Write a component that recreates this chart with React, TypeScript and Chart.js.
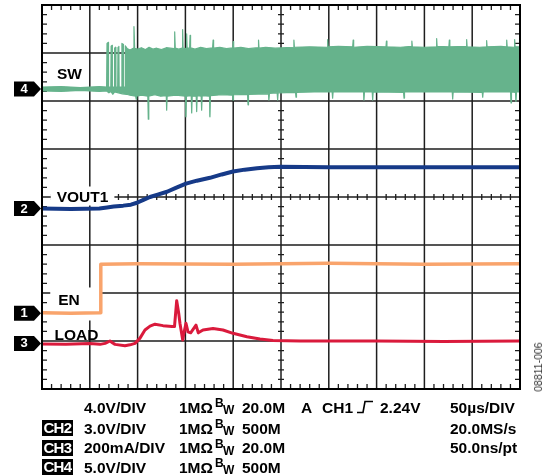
import React, { useEffect, useRef } from 'react';
import { Chart, registerables } from 'chart.js';

Chart.register(...registerables);

// Horizontal axis: time in µs (50 µs/DIV, 10 divisions).
// Vertical axis: screen divisions (8 divisions, centre line = 0).
const TIME_MIN = 0;
const TIME_MAX = 500;
const TIME_PER_DIV = 50;
const DIV_MIN = -4;
const DIV_MAX = 4;

type Pt = [number, number];

// CH4 – SW node: upper and lower envelope of the switching band
const swUpper: Pt[] = [
  [0, 2.29], [20, 2.3], [40, 2.28], [60, 2.3], [67.6, 2.29],
  [68.0, 3.2], [69.2, 3.22], [69.6, 2.29],
  [72.0, 2.29], [72.3, 3.14], [73.3, 3.16], [73.6, 2.29],
  [75.6, 2.29], [75.9, 3.1], [77.0, 3.12], [77.3, 2.29],
  [79.2, 2.29], [79.5, 3.12], [80.4, 3.14], [80.7, 2.29],
  [83.3, 2.29], [83.6, 3.2], [84.9, 3.18], [85.2, 2.29],
  [86.9, 2.29], [87.2, 3.15], [88.0, 3.12],
  [88.5, 3.1], [92, 3.06], [95.5, 3.1], [96.2, 3.55], [96.9, 3.1], [100, 3.08], [104, 3.11],
  [108, 3.07], [112, 3.12], [116, 3.08], [120, 3.1], [125, 3.07], [130, 3.11],
  [138.2, 3.09], [138.8, 3.44], [139.4, 3.1], [143, 3.08], [146.6, 3.1], [147.1, 3.49], [147.6, 3.1],
  [150.8, 3.09], [151.3, 3.4], [151.8, 3.11], [154.4, 3.1], [154.9, 3.37], [155.4, 3.11],
  [160, 3.08], [166, 3.12], [172, 3.09], [178.5, 3.11], [179.0, 3.27], [179.5, 3.1],
  [186, 3.12], [193, 3.09], [199.5, 3.11], [200.0, 3.24], [200.5, 3.1], [208, 3.12],
  [216, 3.09], [226, 3.11], [226.5, 3.27], [227, 3.1], [234, 3.12], [244, 3.1],
  [263, 3.12], [263.5, 3.27], [264, 3.12], [280, 3.13], [298.3, 3.12], [298.8, 3.28], [299.3, 3.13],
  [310, 3.14], [325, 3.13], [325.5, 3.27], [326, 3.12], [340, 3.14], [359.8, 3.13], [360.3, 3.25],
  [360.8, 3.13], [375, 3.12], [386.4, 3.14], [386.9, 3.25], [387.4, 3.13], [400, 3.12],
  [412.3, 3.13], [412.8, 3.3], [413.3, 3.14], [425.6, 3.13], [426.1, 3.27], [426.6, 3.13],
  [443.7, 3.14], [444.2, 3.28], [444.7, 3.13], [458, 3.12], [464.6, 3.13], [465.1, 3.26],
  [465.6, 3.13], [480, 3.14], [485.6, 3.13], [486.1, 3.27], [486.6, 3.13], [493.9, 3.12],
  [494.4, 3.28], [494.9, 3.13], [500, 3.13],
];

const swLower: Pt[] = [
  [0, 2.21], [20, 2.2], [40, 2.22], [60, 2.2], [67.6, 2.21], [70, 2.17], [72, 2.2], [74, 2.14],
  [76, 2.19], [80, 2.17], [84, 2.15], [88.5, 2.14], [92, 2.12], [98.0, 2.1], [98.5, 2.04],
  [99.0, 2.1], [104, 2.12], [110.7, 2.1], [111.2, 1.62], [111.7, 2.1], [118, 2.13], [124, 2.1],
  [130.0, 2.11], [130.4, 1.81], [130.9, 2.1], [140, 2.12], [150.1, 2.1], [150.6, 1.67], [151.1, 2.1],
  [156.1, 2.11], [156.6, 1.75], [157.1, 2.1], [161.3, 2.1], [161.8, 1.78], [162.3, 2.11],
  [166.5, 2.1], [167.0, 1.81], [167.5, 2.11], [175.2, 2.1], [175.7, 1.67], [176.2, 2.11],
  [188, 2.13], [199.3, 2.12], [199.8, 2.02], [200.3, 2.13], [215, 2.14], [215.5, 1.92], [216, 2.14],
  [236.9, 2.15], [237.4, 2.02], [237.9, 2.16], [246.0, 2.17], [246.5, 2.02], [247.0, 2.17],
  [265.2, 2.18], [265.7, 2.08], [266.2, 2.18], [285, 2.19], [303.5, 2.19], [304.0, 2.06],
  [304.5, 2.19], [336.3, 2.19], [336.8, 2.02], [337.3, 2.19], [345.4, 2.19], [345.9, 2.02],
  [346.4, 2.19], [378.2, 2.18], [378.7, 2.06], [379.2, 2.19], [429.1, 2.19], [429.6, 2.04],
  [430.1, 2.19], [460.5, 2.18], [461.0, 2.08], [461.5, 2.19], [490.1, 2.19], [490.6, 1.96],
  [491.1, 2.19], [495.3, 2.18], [495.8, 1.99], [496.3, 2.19], [500, 2.19],
];

// CH2 – VOUT1
const vout1: Pt[] = [
  [0, -0.24], [30, -0.25], [60, -0.24], [68, -0.22], [75, -0.2], [85, -0.18], [93, -0.16],
  [99.4, -0.12], [106, -0.06], [113, 0.0], [121, 0.05], [130.8, 0.11], [140, 0.19], [150.6, 0.28],
  [162, 0.34], [175.7, 0.4], [188, 0.47], [199.8, 0.53], [212, 0.57], [224.9, 0.6], [237, 0.62],
  [249, 0.63], [300, 0.62], [400, 0.62], [500, 0.62],
];

// CH1 – EN
const en: Pt[] = [
  [0, -2.41], [30, -2.42], [60.9, -2.41], [61.5, -1.4], [100, -1.39], [200, -1.4],
  [300, -1.38], [400, -1.4], [500, -1.39],
];

// CH3 – LOAD current
const load: Pt[] = [
  [0, -3.06], [25, -3.07], [50, -3.05], [60.7, -3.07], [66, -3.05], [71.1, -3.0], [74, -3.04],
  [76.4, -3.07], [86.8, -3.1], [92, -3.08], [97.3, -3.05], [102.5, -2.94], [107.7, -2.77],
  [113, -2.69], [118.2, -2.65], [126.6, -2.68], [136, -2.7], [138.6, -2.7], [140.9, -2.16],
  [143, -2.42], [144.3, -2.63], [147.2, -2.98], [148.5, -2.83], [150.6, -2.63], [152.7, -2.81],
  [155.5, -2.83], [161.1, -2.67], [163.5, -2.83], [168.4, -2.77], [178.9, -2.74], [189.3, -2.77],
  [199.8, -2.84], [214.4, -2.91], [228, -2.96], [241.6, -2.99], [270, -3.0], [350, -3.0],
  [420, -3.01], [500, -3.0],
];

const channelMarkers = [
  { ch: '4', level: 2.25 },
  { ch: '2', level: -0.24 },
  { ch: '1', level: -2.42 },
  { ch: '3', level: -3.05 },
];

const traceLabels = [
  { text: 'SW', t: 15.7, d: 2.448, bg: null as null | number[] },
  { text: 'VOUT1', t: 15.4, d: -0.094, bg: [6, 6, 15, 4] },
  { text: 'EN', t: 17.0, d: -2.26, bg: [8, 21, 18, 15] },
  { text: 'LOAD', t: 13.1, d: -2.975, bg: null as null | number[] },
];

const chRows = [
  { box: '', scale: '4.0V/DIV', bw: '20.0M' },
  { box: 'CH2', scale: '3.0V/DIV', bw: '500M' },
  { box: 'CH3', scale: '200mA/DIV', bw: '20.0M' },
  { box: 'CH4', scale: '5.0V/DIV', bw: '500M' },
];
const timebase = ['50µs/DIV', '20.0MS/s', '50.0ns/pt'];
const trigger = { mode: 'A', source: 'CH1', level: '2.24V' };
const figureId = '08811-006';

const COLORS = {
  sw: '#66B38C',
  vout1: '#163A88',
  en: '#F9A46C',
  load: '#DA1A3C',
};

const FONT = '"Liberation Sans", Arial, Helvetica, sans-serif';

const toXY = (arr: Pt[]) => arr.map(([x, y]) => ({ x, y }));

const scopePlugin = {
  id: 'scopeScreen',
  beforeDatasetsDraw(chart: any) {
    const { ctx, chartArea: a, scales } = chart;
    const xs = scales.x;
    const ys = scales.y;
    ctx.save();
    // major grid
    ctx.strokeStyle = '#1e1e1e';
    ctx.lineWidth = 1.5;
    ctx.beginPath();
    for (let k = 1; k < (TIME_MAX - TIME_MIN) / TIME_PER_DIV; k++) {
      const px = xs.getPixelForValue(TIME_MIN + k * TIME_PER_DIV);
      ctx.moveTo(px, a.top);
      ctx.lineTo(px, a.bottom);
    }
    for (let d = DIV_MIN + 1; d < DIV_MAX; d++) {
      const py = ys.getPixelForValue(d);
      ctx.moveTo(a.left, py);
      ctx.lineTo(a.right, py);
    }
    ctx.stroke();
    // minor ticks
    const xc = xs.getPixelForValue((TIME_MIN + TIME_MAX) / 2);
    const yc = ys.getPixelForValue(0);
    ctx.lineWidth = 1.3;
    ctx.beginPath();
    const nx = ((TIME_MAX - TIME_MIN) / TIME_PER_DIV) * 5;
    for (let k = 1; k < nx; k++) {
      if (k % 5 === 0) continue;
      const px = xs.getPixelForValue(TIME_MIN + (k * TIME_PER_DIV) / 5);
      ctx.moveTo(px, a.top);
      ctx.lineTo(px, a.top + 5);
      ctx.moveTo(px, a.bottom);
      ctx.lineTo(px, a.bottom - 5);
      ctx.moveTo(px, yc - 3);
      ctx.lineTo(px, yc + 3);
    }
    const ny = (DIV_MAX - DIV_MIN) * 5;
    for (let k = 1; k < ny; k++) {
      if (k % 5 === 0) continue;
      const py = ys.getPixelForValue(DIV_MIN + k / 5);
      ctx.moveTo(a.left, py);
      ctx.lineTo(a.left + 5, py);
      ctx.moveTo(a.right, py);
      ctx.lineTo(a.right - 5, py);
      ctx.moveTo(xc - 3, py);
      ctx.lineTo(xc + 3, py);
    }
    ctx.stroke();
    // trace labels
    ctx.font = `bold 15.5px ${FONT}`;
    ctx.textBaseline = 'alphabetic';
    ctx.textAlign = 'left';
    traceLabels.forEach((l) => {
      const px = xs.getPixelForValue(l.t);
      const py = ys.getPixelForValue(l.d);
      const w = ctx.measureText(l.text).width;
      if (l.bg) {
        ctx.fillStyle = '#fff';
        ctx.fillRect(px - l.bg[0], py - l.bg[2], w + l.bg[0] + l.bg[1], l.bg[2] + l.bg[3]);
      }
      ctx.fillStyle = '#000';
      ctx.fillText(l.text, px, py);
    });
    ctx.restore();
  },
  afterDatasetsDraw(chart: any) {
    const { ctx, chartArea: a, scales } = chart;
    const ys = scales.y;
    ctx.save();
    ctx.strokeStyle = '#000';
    ctx.lineWidth = 2;
    ctx.strokeRect(a.left, a.top, a.right - a.left, a.bottom - a.top);
    // channel reference markers
    channelMarkers.forEach((m) => {
      const cy = ys.getPixelForValue(m.level);
      const L = a.left - 28;
      ctx.fillStyle = '#000';
      ctx.beginPath();
      ctx.moveTo(L, cy - 7.5);
      ctx.lineTo(a.left - 8, cy - 7.5);
      ctx.lineTo(a.left - 1, cy);
      ctx.lineTo(a.left - 8, cy + 7.5);
      ctx.lineTo(L, cy + 7.5);
      ctx.closePath();
      ctx.fill();
      ctx.fillStyle = '#fff';
      ctx.font = `bold 13px ${FONT}`;
      ctx.textAlign = 'center';
      ctx.textBaseline = 'middle';
      ctx.fillText(m.ch, L + 10, cy + 0.5);
    });
    ctx.restore();
  },
};

const txt: React.CSSProperties = {
  position: 'absolute',
  fontFamily: FONT,
  fontWeight: 700,
  fontSize: 15.5,
  lineHeight: '17px',
  color: '#000',
  whiteSpace: 'pre',
};

const ROW_CENTERS = [407, 428, 447.5, 467];

export default function App() {
  const canvasRef = useRef<HTMLCanvasElement | null>(null);

  useEffect(() => {
    if (!canvasRef.current) return;
    const common = { pointRadius: 0, tension: 0, borderJoinStyle: 'round', borderCapStyle: 'butt' };
    const chart = new Chart(canvasRef.current, {
      type: 'line',
      data: {
        datasets: [
          { ...common, label: 'LOAD', data: toXY(load), borderColor: COLORS.load, borderWidth: 3, fill: false },
          { ...common, label: 'EN', data: toXY(en), borderColor: COLORS.en, borderWidth: 3.5, fill: false },
          { ...common, label: 'VOUT1', data: toXY(vout1), borderColor: COLORS.vout1, borderWidth: 4, fill: false },
          { ...common, label: 'SW high', data: toXY(swUpper), borderColor: COLORS.sw, backgroundColor: COLORS.sw, borderWidth: 1.2, fill: '+1' },
          { ...common, label: 'SW low', data: toXY(swLower), borderColor: COLORS.sw, borderWidth: 1.2, fill: false },
        ] as any,
      },
      options: {
        responsive: false,
        maintainAspectRatio: false,
        animation: false,
        events: [],
        layout: { padding: { left: 42, top: 5, right: 32, bottom: 87 } },
        scales: {
          x: { type: 'linear', min: TIME_MIN, max: TIME_MAX, display: false },
          y: { type: 'linear', min: DIV_MIN, max: DIV_MAX, display: false },
        },
        plugins: { legend: { display: false }, tooltip: { enabled: false } },
        elements: { point: { radius: 0 } },
      } as any,
      plugins: [scopePlugin],
    });
    return () => chart.destroy();
  }, []);

  const top = (c: number) => c - 8.3;

  return (
    <div style={{ position: 'absolute', left: 0, top: 0, width: 552, height: 476, background: '#fff', overflow: 'hidden' }}>
      <canvas ref={canvasRef} width={552} height={476} style={{ position: 'absolute', left: 0, top: 0, width: 552, height: 476 }} />
      {chRows.map((r, i) => {
        const c = ROW_CENTERS[i];
        return (
          <React.Fragment key={i}>
            {r.box && (
              <div
                style={{
                  position: 'absolute', left: 42, top: c - 8, width: 31, height: 16, background: '#000',
                  color: '#fff', fontFamily: FONT, fontWeight: 700, fontSize: 15, lineHeight: '16px',
                  textAlign: 'center', letterSpacing: -0.6,
                }}
              >
                {r.box}
              </div>
            )}
            <div style={{ ...txt, left: 84, top: top(c) }}>{r.scale}</div>
            <div style={{ ...txt, left: 179, top: top(c) }}>1MΩ</div>
            <div style={{ ...txt, left: 215, top: c - 4 - 6.9, fontSize: 12, lineHeight: '14px' }}>B</div>
            <div style={{ ...txt, left: 223, top: c + 3 - 6.9, fontSize: 12, lineHeight: '14px' }}>W</div>
            <div style={{ ...txt, left: 242, top: top(c) }}>{r.bw}</div>
            <div style={{ ...txt, left: 450, top: top(c) }}>{timebase[i] ?? ''}</div>
          </React.Fragment>
        );
      })}
      <div style={{ ...txt, left: 301, top: top(ROW_CENTERS[0]) }}>{trigger.mode}</div>
      <div style={{ ...txt, left: 322, top: top(ROW_CENTERS[0]) }}>{trigger.source}</div>
      <svg style={{ position: 'absolute', left: 357, top: ROW_CENTERS[0] - 7 }} width={16} height={14}>
        <polyline points="0,12.5 6,12.5 8,1.5 16,1.5" fill="none" stroke="#000" strokeWidth={1.6} />
      </svg>
      <div style={{ ...txt, left: 380, top: top(ROW_CENTERS[0]) }}>{trigger.level}</div>
      <div
        style={{
          position: 'absolute', left: 538, top: 367, transform: 'translate(-50%, -50%) rotate(-90deg)',
          fontFamily: FONT, fontSize: 10.5, lineHeight: '12px', color: '#333', whiteSpace: 'nowrap',
        }}
      >
        {figureId}
      </div>
    </div>
  );
}
